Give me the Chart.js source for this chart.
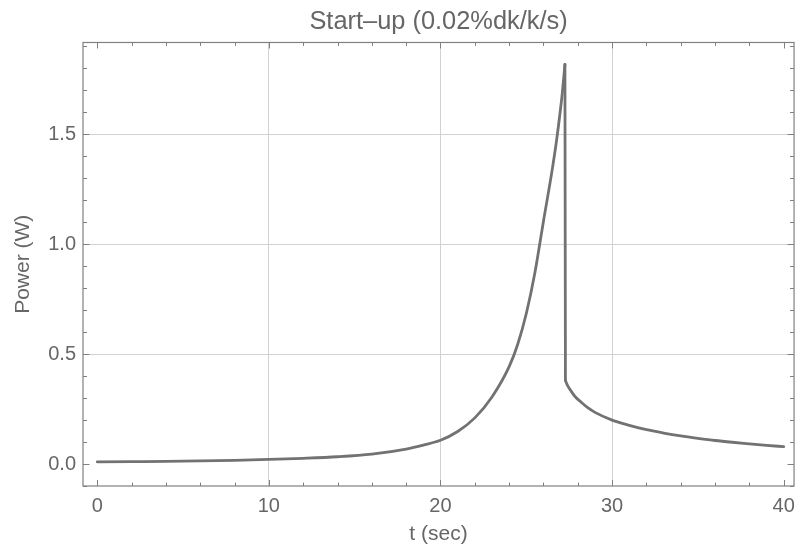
<!DOCTYPE html>
<html><head><meta charset="utf-8">
<script src="https://cdn.jsdelivr.net/npm/chart.js@4/dist/chart.umd.min.js"></script>
<style>html,body{margin:0;padding:0;background:#fff;}</style>
</head><body>
<canvas id="c" width="803" height="555"></canvas>
<script>
// ---- data ----
// rising part (before the scram)
const riseTime  = [0, 2, 4, 6, 8, 10, 12, 14, 16, 18, 19, 20, 21, 22, 23, 24, 24.5, 25, 25.5, 26, 26.5, 26.75, 27, 27.1, 27.25];
const risePower = [0.010, 0.011, 0.012, 0.014, 0.017, 0.021, 0.026, 0.033, 0.045, 0.068, 0.086, 0.108, 0.148, 0.210, 0.305, 0.443, 0.545, 0.685, 0.87, 1.105, 1.335, 1.465, 1.62, 1.69, 1.818];
// prompt drop
const dropTime  = [27.25, 27.28];
const dropPower = [1.818, 0.38];
// decay after the drop
const fallTime  = [27.28, 27.4, 27.6, 27.85, 28.2, 28.6, 29, 30, 31, 32, 33, 34, 35, 36, 37, 38, 39, 40];
const fallPower = [0.38, 0.358, 0.333, 0.306, 0.281, 0.255, 0.235, 0.200, 0.176, 0.156, 0.141, 0.128, 0.117, 0.107, 0.099, 0.092, 0.085, 0.079];

const xTickValues = [0, 10, 20, 30, 40];
const yTickValues = [0.0, 0.5, 1.0, 1.5];
const xGridValues = [10, 20, 30];
const yGridValues = [0.5, 1.0, 1.5];
const xMinorStep = 2;
const yMinorStep = 0.1;
const titleText = 'Start\u2013up (0.02%dk/k/s)';
const xLabel = 't (sec)';
const yLabel = 'Power (W)';

const FONT = '"Liberation Sans", Arial, Helvetica, sans-serif';
const TEXT = '#666666';
const LINE = '#727272';

const toPts = (ts, ps) => ts.map((t, i) => ({x: t, y: ps[i]}));
const lineStyle = {
  borderColor: LINE,
  borderWidth: 2.8,
  pointRadius: 0,
  fill: false,
  cubicInterpolationMode: 'monotone',
  borderJoinStyle: 'round',
  borderCapStyle: 'round'
};

const ticksPlugin = {
  id: 'frameTicks',
  afterDraw(chart) {
    const {ctx, chartArea: a, scales: {x, y}} = chart;
    ctx.save();
    ctx.strokeStyle = '#808080';
    ctx.lineWidth = 1.2;
    ctx.strokeRect(a.left, a.top, a.right - a.left, a.bottom - a.top);
    ctx.lineWidth = 1;
    ctx.beginPath();
    for (let v = 0; v <= 40 + 1e-9; v += xMinorStep) {
      const px = Math.round(x.getPixelForValue(v)) + 0.5;
      const major = xTickValues.some(t => Math.abs(t - v) < 1e-6);
      const len = major ? 6 : 3.5;
      ctx.moveTo(px, a.bottom); ctx.lineTo(px, a.bottom - len);
      ctx.moveTo(px, a.top); ctx.lineTo(px, a.top + len);
    }
    for (let k = -1; k <= 19; k++) {
      const v = k * yMinorStep;
      if (v < y.min - 1e-9 || v > y.max + 1e-9) continue;
      const py = Math.round(y.getPixelForValue(v)) + 0.5;
      const major = yTickValues.some(t => Math.abs(t - v) < 1e-6);
      const len = major ? 6.5 : 4;
      ctx.moveTo(a.left, py); ctx.lineTo(a.left + len, py);
      ctx.moveTo(a.right, py); ctx.lineTo(a.right - len, py);
    }
    ctx.stroke();
    ctx.restore();
  }
};

new Chart(document.getElementById('c'), {
  type: 'line',
  data: {
    datasets: [
      Object.assign({data: toPts(riseTime, risePower)}, lineStyle),
      Object.assign({data: toPts(dropTime, dropPower)}, lineStyle, {cubicInterpolationMode: 'default', tension: 0}),
      Object.assign({data: toPts(fallTime, fallPower)}, lineStyle)
    ]
  },
  options: {
    responsive: false,
    animation: false,
    devicePixelRatio: 1,
    layout: {padding: {left: 0, right: 3, top: 0, bottom: 0}},
    plugins: {
      legend: {display: false},
      tooltip: {enabled: false},
      title: {
        display: true,
        text: titleText,
        fullSize: false,
        color: TEXT,
        font: {family: FONT, size: 25.4, weight: 'normal', lineHeight: 1.2},
        padding: {top: 7, bottom: 5}
      }
    },
    scales: {
      x: {
        type: 'linear',
        min: -0.83,
        max: 40.6,
        afterBuildTicks: s => { s.ticks = xTickValues.map(v => ({value: v})); },
        afterFit: s => { s.height = 69; },
        border: {display: false},
        grid: {
          drawTicks: false,
          color: c => xGridValues.includes(c.tick && c.tick.value) ? '#d2d2d2' : 'rgba(0,0,0,0)',
          lineWidth: 1
        },
        ticks: {
          color: TEXT,
          padding: 8,
          maxRotation: 0,
          font: {family: FONT, size: 20},
          callback: v => String(v)
        },
        title: {
          display: true,
          text: xLabel,
          color: TEXT,
          font: {family: FONT, size: 21},
          padding: {top: 0, bottom: 8}
        }
      },
      y: {
        type: 'linear',
        min: -0.1,
        max: 1.918,
        afterBuildTicks: s => { s.ticks = yTickValues.map(v => ({value: v})); },
        afterFit: s => { s.width = 83; },
        border: {display: false},
        grid: {
          drawTicks: false,
          color: c => yGridValues.some(g => c.tick && Math.abs(g - c.tick.value) < 1e-6) ? '#d2d2d2' : 'rgba(0,0,0,0)',
          lineWidth: 1
        },
        ticks: {
          color: TEXT,
          padding: 7,
          font: {family: FONT, size: 20},
          callback: v => Number(v).toFixed(1)
        },
        title: {
          display: true,
          text: yLabel,
          color: TEXT,
          font: {family: FONT, size: 21},
          padding: {top: 11, bottom: 0}
        }
      }
    }
  },
  plugins: [ticksPlugin]
});
</script>
</body></html>
